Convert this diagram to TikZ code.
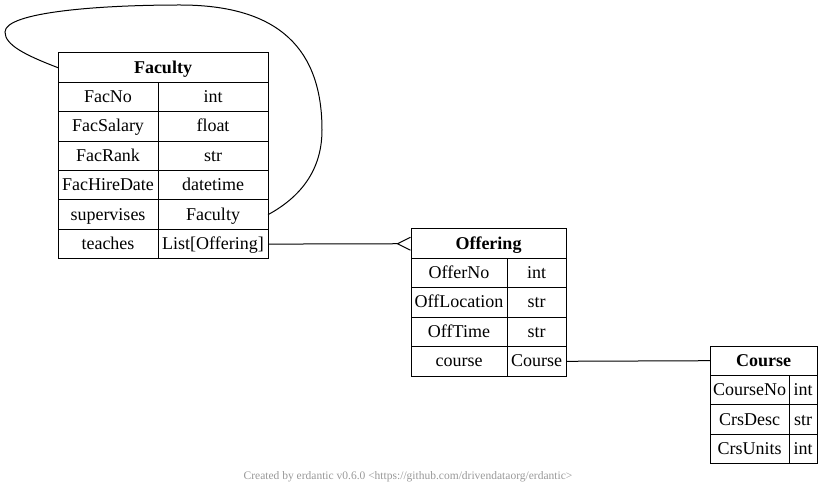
\documentclass[tikz,border=0pt]{standalone}
\usepackage{fontspec}
\setmainfont{Liberation Serif}
\usetikzlibrary{arrows.meta, positioning}

\begin{document}
\begin{tikzpicture}[x=1pt, y=1pt, line width=1pt,
		cell/.style={draw,rectangle,inner sep=0pt,outer sep=0pt,minimum height=29.4pt,text height=13.5pt,text depth=2.5pt,font=\fontsize{18}{21}\selectfont},
		head/.style={cell,minimum width=#1,font=\fontsize{18}{21}\selectfont\bfseries},
		field/.style={cell,minimum width=#1},
		crow/.style={-{Straight Barb[reversed,length=13pt,width=13pt]}}
	]
		\useasboundingbox (0,0) rectangle (822,-494);

		% Faculty
		\node (fach) [head=210pt,anchor=north west] at (58,-53) {Faculty};
		\node (fk1) [field=100pt,below right=0pt and 0pt of fach.south west] {FacNo};
		\node (fv1) [field=110pt,right=0pt of fk1] {int};
		\node (fk2) [field=100pt,below=0pt of fk1] {FacSalary};
		\node (fv2) [field=110pt,right=0pt of fk2] {float};
		\node (fk3) [field=100pt,below=0pt of fk2] {FacRank};
		\node (fv3) [field=110pt,right=0pt of fk3] {str};
		\node (fk4) [field=100pt,below=0pt of fk3] {FacHireDate};
		\node (fv4) [field=110pt,right=0pt of fk4] {datetime};
		\node (fk5) [field=100pt,below=0pt of fk4] {supervises};
		\node (fv5) [field=110pt,right=0pt of fk5] {Faculty};
		\node (fk6) [field=100pt,below=0pt of fk5] {teaches};
		\node (fv6) [field=110pt,right=0pt of fk6] {List[Offering]};

		% Offering
		\node (offh) [head=155pt,anchor=north west] at (411,-229) {Offering};
		\node (ok1) [field=96pt,below right=0pt and 0pt of offh.south west] {OfferNo};
		\node (ov1) [field=59pt,right=0pt of ok1] {int};
		\node (ok2) [field=96pt,below=0pt of ok1] {OffLocation};
		\node (ov2) [field=59pt,right=0pt of ok2] {str};
		\node (ok3) [field=96pt,below=0pt of ok2] {OffTime};
		\node (ov3) [field=59pt,right=0pt of ok3] {str};
		\node (ok4) [field=96pt,below=0pt of ok3] {course};
		\node (ov4) [field=59pt,right=0pt of ok4] {Course};

		% Course
		\node (couh) [head=107pt,anchor=north west] at (710,-346) {Course};
		\node (ck1) [field=79pt,below right=0pt and 0pt of couh.south west] {CourseNo};
		\node (cv1) [field=28pt,right=0pt of ck1] {int};
		\node (ck2) [field=79pt,below=0pt of ck1] {CrsDesc};
		\node (cv2) [field=28pt,right=0pt of ck2] {str};
		\node (ck3) [field=79pt,below=0pt of ck2] {CrsUnits};
		\node (cv3) [field=28pt,right=0pt of ck3] {int};

		\node (note) [text=black!40,font=\fontsize{11.5}{13}\selectfont] at (408,-477) {Created by erdantic v0.6.0 <https://github.com/drivendataorg/erdantic>};

		\draw (fach.west) .. controls (25,-55) and (5,-45) .. (5,-32)
			.. controls (5,-12) and (100,-5) .. (180,-5)
			.. controls (280,-5) and (322,-50) .. (322,-130)
			.. controls (322,-175) and (295,-200) .. (fv5.east);
		\draw [crow] (fv6.east) -- (offh.west);
		\draw (ov4.east) -- (couh.west);
	\end{tikzpicture}
\end{document}
